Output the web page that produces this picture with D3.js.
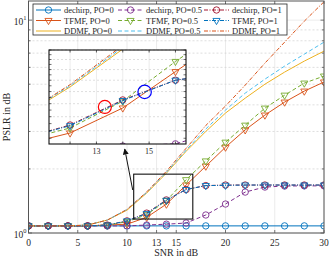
<!DOCTYPE html>
<html>
<head>
<meta charset="utf-8">
<script src="https://d3js.org/d3.v7.min.js"></script>
<style>
  body { margin: 0; background: #fff; }
  svg { display: block; font-family: "Liberation Serif", "Times New Roman", serif; }
</style>
</head>
<body>
<div id="chart"></div>
<script>
// SNR points (dB), one value per 2 dB
const snr = [0, 2, 4, 6, 8, 10, 12, 14, 16, 18, 20, 22, 24, 26, 28, 30];

// PSLR values
const dechirpPO0  = [1.08, 1.08, 1.08, 1.08, 1.08, 1.08, 1.08, 1.08, 1.08, 1.08, 1.08, 1.08, 1.08, 1.08, 1.08, 1.08];
const tfmfPO0     = [1.08, 1.08, 1.08, 1.08, 1.09, 1.10, 1.185, 1.366, 1.68, 2.06, 2.53, 3.05, 3.58, 4.12, 4.64, 5.12];
const ddmfPO0     = [1.08, 1.08, 1.08, 1.09, 1.15, 1.28, 1.54, 1.91, 2.42, 3.00, 3.66, 4.30, 5.00, 5.70, 6.42, 7.15];
const dechirpPO05 = [1.08, 1.08, 1.08, 1.08, 1.08, 1.08, 1.09, 1.10, 1.114, 1.215, 1.368, 1.557, 1.644, 1.662, 1.665, 1.665];
const tfmfPO05    = [1.08, 1.08, 1.08, 1.08, 1.09, 1.13, 1.219, 1.42, 1.78, 2.18, 2.67, 3.21, 3.86, 4.44, 5.06, 5.46];
const ddmfPO05    = [1.08, 1.08, 1.08, 1.09, 1.15, 1.29, 1.55, 1.93, 2.45, 3.08, 3.78, 4.54, 5.28, 6.08, 6.92, 7.88];
const dechirpPO1  = [1.08, 1.08, 1.08, 1.08, 1.09, 1.14, 1.24, 1.43, 1.60, 1.67, 1.68, 1.68, 1.68, 1.68, 1.68, 1.68];
const tfmfPO1     = [1.08, 1.08, 1.08, 1.08, 1.09, 1.14, 1.235, 1.425, 1.60, 1.67, 1.675, 1.68, 1.68, 1.68, 1.68, 1.68];
const ddmfPO1     = [1.08, 1.08, 1.08, 1.09, 1.15, 1.29, 1.56, 1.95, 2.50, 3.20, 3.95, 4.95, 6.28, 7.88, 9.89, 12.2];

// ticks
const xTicks = [0, 5, 10, 13, 15, 20, 25, 30];
const yMajor = [1, 10];
const yMinor = [2, 3, 4, 5, 6, 7, 8, 9];
const insetXTicks = [12, 13, 14, 15, 16];
const insetXLabels = [13, 15];
const insetYGrid = [1.2, 1.3, 1.4, 1.5, 1.6, 1.7, 1.8, 1.9];
const insetYTicks = [1.15, 1.2, 1.25, 1.3, 1.35, 1.4, 1.45, 1.5, 1.55, 1.6, 1.65, 1.7, 1.75, 1.8, 1.85, 1.9];

// zoom box, arrow and highlight circles (data coordinates)
const zoomBoxX = [10.68, 16.68];
const zoomBoxY = [1.163, 1.89];
const insetXDomain = [11.2, 16.4];
const insetYDomain = [1.113, 1.90];
const arrowFrom = [10.58, 1.592];
const arrowTo = [9.77, 2.48];
const redCircle = [13.32, 1.374];
const blueCircle = [14.83, 1.497];

const series = [
  { name: "dechirp, PO=0",   values: dechirpPO0,  color: "#0072BD", dash: null,        marker: "circle" },
  { name: "TFMF, PO=0",      values: tfmfPO0,     color: "#D95319", dash: null,        marker: "tri" },
  { name: "DDMF, PO=0",      values: ddmfPO0,     color: "#EDB120", dash: null,        marker: null },
  { name: "dechirp, PO=0.5", values: dechirpPO05, color: "#7E2F8E", dash: "4,2.5",     marker: "circle" },
  { name: "TFMF, PO=0.5",    values: tfmfPO05,    color: "#77AC30", dash: "4,2.5",     marker: "tri" },
  { name: "DDMF, PO=0.5",    values: ddmfPO05,    color: "#4DBEEE", dash: "4,2.5",     marker: null },
  { name: "dechirp, PO=1",   values: dechirpPO1,  color: "#A2142F", dash: "4,1.5,1,1.5", marker: "circle" },
  { name: "TFMF, PO=1",      values: tfmfPO1,     color: "#0072BD", dash: "4,1.5,1,1.5", marker: "tri" },
  { name: "DDMF, PO=1",      values: ddmfPO1,     color: "#D95319", dash: "4,1.5,1,1.5", marker: null }
];

const width = 329, height = 259;
const plot = { left: 28.5, right: 324, top: 1, bottom: 233 };
const axisColor = "#555";

const svg = d3.select("#chart").append("svg")
    .attr("width", width)
    .attr("height", height);

const x = d3.scaleLinear().domain([0, 30]).range([plot.left, plot.right]);
const y = d3.scaleLog().domain([1, 12.3]).range([plot.bottom, plot.top]);

svg.append("clipPath").attr("id", "mainClip")
  .append("rect")
    .attr("x", plot.left).attr("y", plot.top)
    .attr("width", plot.right - plot.left).attr("height", plot.bottom - plot.top);

// grid
const grid = svg.append("g");
grid.selectAll("line.vg").data(xTicks).enter().append("line")
    .attr("x1", d => x(d)).attr("x2", d => x(d))
    .attr("y1", plot.top).attr("y2", plot.bottom)
    .attr("stroke", "#e2e2e2").attr("stroke-width", 0.7);
grid.selectAll("line.hg").data(yMinor).enter().append("line")
    .attr("x1", plot.left).attr("x2", plot.right)
    .attr("y1", d => y(d)).attr("y2", d => y(d))
    .attr("stroke", "#d0d0d0").attr("stroke-width", 0.7)
    .attr("stroke-dasharray", "2,2");
grid.selectAll("line.hm").data(yMajor).enter().append("line")
    .attr("x1", plot.left).attr("x2", plot.right)
    .attr("y1", d => y(d)).attr("y2", d => y(d))
    .attr("stroke", "#e2e2e2").attr("stroke-width", 0.7);

function drawMarker(g, type, cx, cy, color) {
  if (type === "circle") {
    g.append("circle")
        .attr("cx", cx).attr("cy", cy).attr("r", 3.2)
        .attr("fill", "none").attr("stroke", color).attr("stroke-width", 0.9);
  } else if (type === "tri") {
    g.append("path")
        .attr("d", d3.symbol(d3.symbolTriangle, 22)())
        .attr("transform", `translate(${cx},${cy}) rotate(180)`)
        .attr("fill", "none").attr("stroke", color).attr("stroke-width", 0.9);
  }
}

function drawSeries(g, xs, ys) {
  series.forEach(s => {
    const line = d3.line()
        .x((d, i) => xs(snr[i]))
        .y(d => ys(d));
    g.append("path")
        .datum(s.values)
        .attr("d", line)
        .attr("fill", "none")
        .attr("stroke", s.color)
        .attr("stroke-width", 1)
        .attr("stroke-dasharray", s.dash);
    if (s.marker) {
      s.values.forEach((v, i) => drawMarker(g, s.marker, xs(snr[i]), ys(v), s.color));
    }
  });
}

const lines = svg.append("g").attr("clip-path", "url(#mainClip)");
drawSeries(lines, x, y);

// axes frame and ticks
const axes = svg.append("g");
axes.append("rect")
    .attr("x", plot.left).attr("y", plot.top)
    .attr("width", plot.right - plot.left).attr("height", plot.bottom - plot.top)
    .attr("fill", "none").attr("stroke", axisColor).attr("stroke-width", 1);

xTicks.forEach(t => {
  axes.append("line").attr("x1", x(t)).attr("x2", x(t)).attr("y1", plot.bottom).attr("y2", plot.bottom - 3)
      .attr("stroke", axisColor).attr("stroke-width", 0.8);
  axes.append("line").attr("x1", x(t)).attr("x2", x(t)).attr("y1", plot.top).attr("y2", plot.top + 3)
      .attr("stroke", axisColor).attr("stroke-width", 0.8);
  axes.append("text")
      .attr("x", x(t)).attr("y", plot.bottom + 13)
      .attr("text-anchor", "middle")
      .attr("font-size", 9.5).attr("fill", "#262626")
      .text(t);
});

yMinor.concat(yMajor).forEach(t => {
  const len = yMajor.includes(t) ? 3.5 : 2;
  axes.append("line").attr("x1", plot.left).attr("x2", plot.left + len).attr("y1", y(t)).attr("y2", y(t))
      .attr("stroke", axisColor).attr("stroke-width", 0.8);
  axes.append("line").attr("x1", plot.right).attr("x2", plot.right - len).attr("y1", y(t)).attr("y2", y(t))
      .attr("stroke", axisColor).attr("stroke-width", 0.8);
});

yMajor.forEach(t => {
  const txt = axes.append("text")
      .attr("x", plot.left - 2).attr("y", y(t) + 4.5)
      .attr("text-anchor", "end")
      .attr("font-size", 9.5).attr("fill", "#262626");
  txt.append("tspan").text("10");
  txt.append("tspan").attr("dy", -4.5).attr("font-size", 6.5).text(Math.round(Math.log10(t)));
});

svg.append("text")
    .attr("x", (plot.left + plot.right) / 2).attr("y", 256)
    .attr("text-anchor", "middle").attr("font-size", 10).attr("fill", "#262626")
    .text("SNR in dB");

svg.append("text")
    .attr("transform", `translate(10, ${(plot.top + plot.bottom) / 2}) rotate(-90)`)
    .attr("text-anchor", "middle").attr("font-size", 10).attr("fill", "#262626")
    .text("PSLR in dB");

// zoom rectangle in the main axes
svg.append("rect")
    .attr("x", x(zoomBoxX[0])).attr("y", y(zoomBoxY[1]))
    .attr("width", x(zoomBoxX[1]) - x(zoomBoxX[0]))
    .attr("height", y(zoomBoxY[0]) - y(zoomBoxY[1]))
    .attr("fill", "none").attr("stroke", "#111").attr("stroke-width", 1.1);

// arrow
svg.append("defs").append("marker")
    .attr("id", "arrowHead")
    .attr("viewBox", "0 0 10 10")
    .attr("refX", 9).attr("refY", 5)
    .attr("markerWidth", 6).attr("markerHeight", 6)
    .attr("markerUnits", "userSpaceOnUse")
    .attr("orient", "auto")
  .append("path")
    .attr("d", "M0,0 L10,5 L0,10 z")
    .attr("fill", "#111");

svg.append("line")
    .attr("x1", x(arrowFrom[0])).attr("y1", y(arrowFrom[1]))
    .attr("x2", x(arrowTo[0])).attr("y2", y(arrowTo[1]))
    .attr("stroke", "#111").attr("stroke-width", 1)
    .attr("marker-end", "url(#arrowHead)");

// inset axes
const xi = d3.scaleLinear().domain(insetXDomain).range([49, 186]);
const yi = d3.scaleLog().domain(insetYDomain).range([144, 50]);
const iL = xi.range()[0], iR = xi.range()[1], iT = yi.range()[1], iB = yi.range()[0];

svg.append("clipPath").attr("id", "insetClip")
  .append("rect").attr("x", iL).attr("y", iT).attr("width", iR - iL).attr("height", iB - iT);

const inset = svg.append("g");
inset.append("rect")
    .attr("x", iL).attr("y", iT).attr("width", iR - iL).attr("height", iB - iT)
    .attr("fill", "#fff");

inset.selectAll("line.ivg").data(insetXTicks).enter().append("line")
    .attr("x1", d => xi(d)).attr("x2", d => xi(d)).attr("y1", iT).attr("y2", iB)
    .attr("stroke", "#e2e2e2").attr("stroke-width", 0.7);
inset.selectAll("line.ihg").data(insetYGrid).enter().append("line")
    .attr("x1", iL).attr("x2", iR).attr("y1", d => yi(d)).attr("y2", d => yi(d))
    .attr("stroke", "#d0d0d0").attr("stroke-width", 0.7).attr("stroke-dasharray", "2,2");

const insetLines = inset.append("g").attr("clip-path", "url(#insetClip)");
drawSeries(insetLines, xi, yi);

insetLines.append("circle")
    .attr("cx", xi(redCircle[0])).attr("cy", yi(redCircle[1])).attr("r", 6.5)
    .attr("fill", "none").attr("stroke", "#ff0000").attr("stroke-width", 1.2);
insetLines.append("circle")
    .attr("cx", xi(blueCircle[0])).attr("cy", yi(blueCircle[1])).attr("r", 6.7)
    .attr("fill", "none").attr("stroke", "#0000ff").attr("stroke-width", 1.2);

insetXTicks.forEach(t => {
  inset.append("line").attr("x1", xi(t)).attr("x2", xi(t)).attr("y1", iB).attr("y2", iB - 2.5)
      .attr("stroke", "#333").attr("stroke-width", 0.8);
  inset.append("line").attr("x1", xi(t)).attr("x2", xi(t)).attr("y1", iT).attr("y2", iT + 2.5)
      .attr("stroke", "#333").attr("stroke-width", 0.8);
});
insetXLabels.forEach(t => {
  inset.append("text")
      .attr("x", xi(t)).attr("y", iB + 10)
      .attr("text-anchor", "middle").attr("font-size", 8).attr("fill", "#262626")
      .text(t);
});
insetYTicks.forEach(t => {
  inset.append("line").attr("x1", iL).attr("x2", iL + 2.5).attr("y1", yi(t)).attr("y2", yi(t))
      .attr("stroke", "#333").attr("stroke-width", 0.7);
  inset.append("line").attr("x1", iR).attr("x2", iR - 2.5).attr("y1", yi(t)).attr("y2", yi(t))
      .attr("stroke", "#333").attr("stroke-width", 0.7);
});
inset.append("rect")
    .attr("x", iL).attr("y", iT).attr("width", iR - iL).attr("height", iB - iT)
    .attr("fill", "none").attr("stroke", "#111").attr("stroke-width", 1.1);

// legend, three columns of three rows
const legend = svg.append("g");
legend.append("rect")
    .attr("x", 33).attr("y", 4).attr("width", 254).attr("height", 31)
    .attr("fill", "#fff").attr("stroke", "#262626").attr("stroke-width", 0.8);

const legendCols = [36, 118, 204];
const legendRows = [10, 20.5, 31];
series.forEach((s, i) => {
  const lx = legendCols[Math.floor(i / 3)];
  const ly = legendRows[i % 3];
  legend.append("line")
      .attr("x1", lx).attr("x2", lx + 25).attr("y1", ly).attr("y2", ly)
      .attr("stroke", s.color).attr("stroke-width", 1)
      .attr("stroke-dasharray", s.dash);
  if (s.marker) drawMarker(legend, s.marker, lx + 12.5, ly, s.color);
  legend.append("text")
      .attr("x", lx + 28).attr("y", ly + 3)
      .attr("font-size", 8.5).attr("fill", "#262626")
      .text(s.name);
});
</script>
</body>
</html>
